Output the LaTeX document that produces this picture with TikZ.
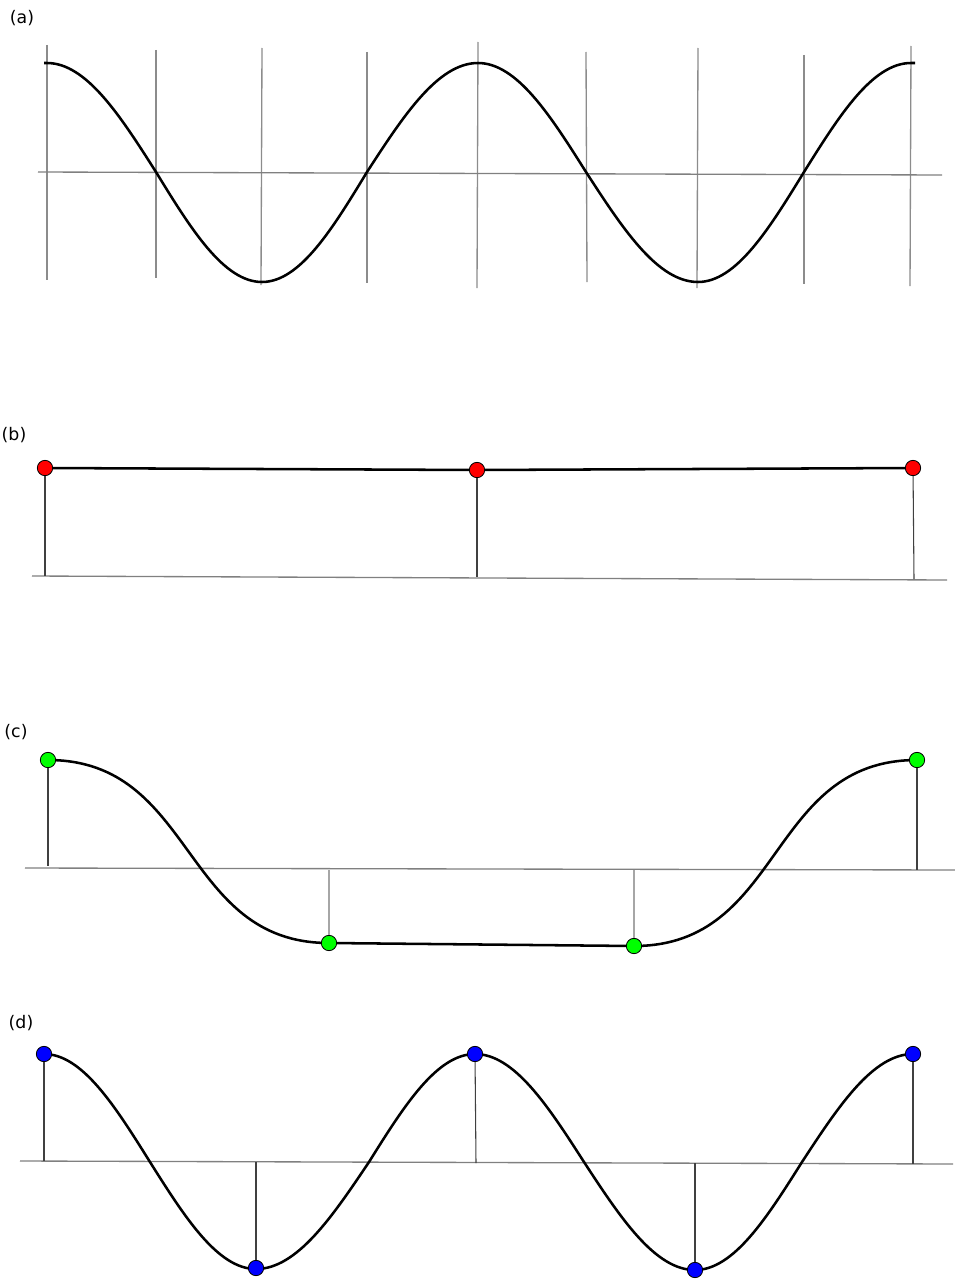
\documentclass[tikz,border=0pt]{standalone}
\usepackage{fontspec}
\setmainfont{DejaVu Sans}
\begin{document}
\begin{tikzpicture}[x=0.75pt,y=-0.75pt,
  grid/.style={draw=black!45, line width=1pt},
  axis/.style={draw=black!50, line width=1pt},
  stem/.style={draw=black!75, line width=0.8pt},
  lightstem/.style={draw=black!35, line width=0.8pt},
  wave/.style={draw=black, line width=1.9pt},
  dot/.style={circle, draw=black, line width=0.6pt, inner sep=0pt, minimum size=11.5pt},
  lab/.style={font=\fontsize{13}{15}\selectfont, inner sep=0pt}]
\useasboundingbox (0,0) rectangle (955,1281);
% ---------- (a)
\node[lab] (la) at (22,18) {(a)};
\draw[grid] (47,45) -- (47,280);
\draw[grid] (156,50) -- (156,278);
\draw[grid] (262,48) -- (261,285);
\draw[grid] (367,52) -- (367,283);
\draw[grid] (478,42) -- (477,288);
\draw[grid] (586,52) -- (587,282);
\draw[grid] (698,48) -- (697,288);
\draw[grid] (804,55) -- (804,284);
\draw[grid] (911,46) -- (910,286);
\draw[axis] (38,172) -- (942,175);
\draw[wave] (44,63) -- (47,63) cos (156,172) sin (262,282) cos (367,172) sin (478,63) cos (586,172) sin (698,282) cos (804,172) sin (911,63) -- (915,63);
% ---------- (b)
\node[lab] (lb) at (14,435) {(b)};
\draw[axis] (32,576) -- (947,580);
\node[dot, fill=red] (b1) at (45,468) {};
\node[dot, fill=red] (b2) at (477,470) {};
\node[dot, fill=red] (b3) at (913,468) {};
\coordinate (bb1) at (45,576);
\coordinate (bb2) at (477,577);
\coordinate (bb3) at (914,579);
\draw[stem] (b1) -- (bb1);
\draw[stem] (b2) -- (bb2);
\draw[stem] (b3) -- (bb3);
\draw[wave] (b1) -- (b2) -- (b3);
% ---------- (c)
\node[lab] (lc) at (16,732) {(c)};
\draw[axis] (25,868) -- (955,870);
\coordinate (cb1) at (48,866);
\coordinate (cb2) at (329,870);
\coordinate (cb3) at (634,870);
\coordinate (cb4) at (917,870);
\draw[wave] (48,760) .. controls (196,760) and (181,943) .. (329,943) -- (634,946) .. controls (784,946) and (767,760) .. (917,760);
\node[dot, fill=green] (c1) at (48,760) {};
\node[dot, fill=green] (c2) at (329,943) {};
\node[dot, fill=green] (c3) at (634,946) {};
\node[dot, fill=green] (c4) at (917,760) {};
\draw[stem] (c1) -- (cb1);
\draw[lightstem] (c2) -- (cb2);
\draw[lightstem] (c3) -- (cb3);
\draw[stem] (c4) -- (cb4);
% ---------- (d)
\node[lab] (ld) at (21,1023) {(d)};
\draw[axis] (20,1161) -- (953,1164);
\coordinate (db1) at (44,1161);
\coordinate (db2) at (256,1162);
\coordinate (db3) at (476,1163);
\coordinate (db4) at (695,1163);
\coordinate (db5) at (913,1164);
\draw[wave] (44,1054) cos (150,1162) sin (256,1269) cos (369,1162) sin (475,1054) cos (584,1162) sin (695,1270) cos (802,1162) sin (913,1054);
\node[dot, fill=blue] (d1) at (44,1054) {};
\node[dot, fill=blue] (d2) at (256,1268) {};
\node[dot, fill=blue] (d3) at (475,1054) {};
\node[dot, fill=blue] (d4) at (695,1270) {};
\node[dot, fill=blue] (d5) at (913,1054) {};
\draw[stem] (d1) -- (db1);
\draw[stem] (d2) -- (db2);
\draw[stem] (d3) -- (db3);
\draw[stem] (d4) -- (db4);
\draw[stem] (d5) -- (db5);
\end{tikzpicture}
\end{document}
